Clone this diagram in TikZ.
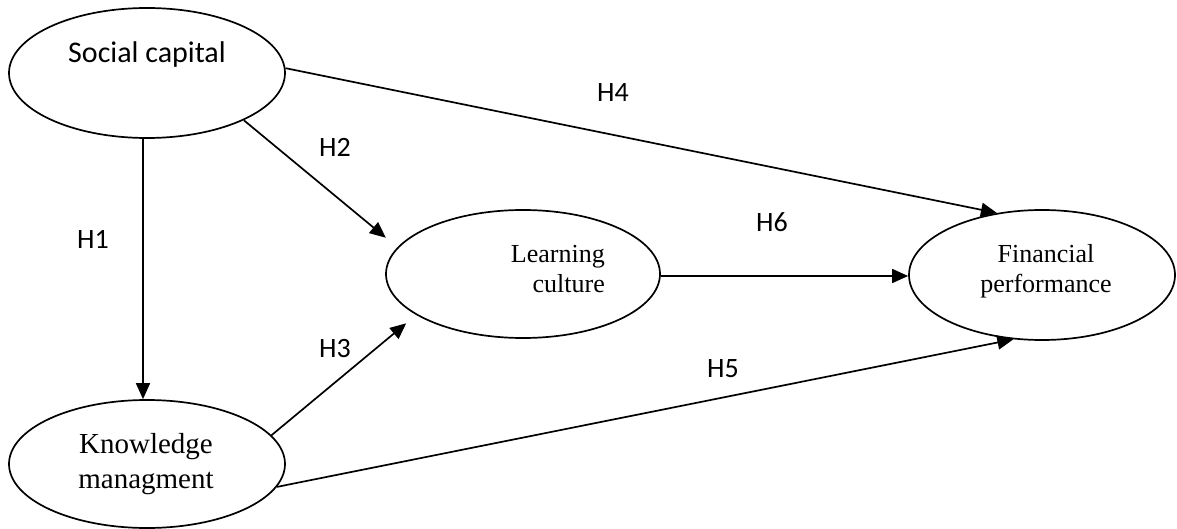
\documentclass[tikz,border=0pt]{standalone}
\usepackage{fontspec}
\setmainfont{Liberation Serif}
\newfontfamily\calib{Carlito}
\usetikzlibrary{shapes.geometric,arrows.meta}
\begin{document}
\begin{tikzpicture}[x=1pt,y=-1pt,
  construct/.style={draw, ellipse, line width=1.7pt, inner sep=0pt},
  ctext/.style={inner sep=0pt, font=\fontsize{26}{30}\selectfont},
  hlabel/.style={inner sep=0pt, anchor=base, font=\calib\fontsize{28}{32}\selectfont},
  path/.style={line width=1.7pt, -{Triangle[length=16pt,width=14pt]}}
]
\useasboundingbox (0,0) rectangle (1177,529);
% constructs
\node[construct, minimum width=276pt, minimum height=130pt] (sc) at (147,73) {};
\node[construct, minimum width=276pt, minimum height=128pt] (km) at (147,464) {};
\node[construct, minimum width=274pt, minimum height=128pt] (lc) at (523,274) {};
\node[construct, minimum width=266pt, minimum height=130pt] (fp) at (1042,275) {};
% texts
\node[inner sep=0pt, anchor=base, font=\calib\fontsize{30}{34}\selectfont] (sct) at (147,63) {Social capital};
\node[ctext, align=center, font=\fontsize{29}{35}\selectfont] (kmt) at (146,464) {Knowledge\\managment};
\node[ctext, align=right, anchor=east] (lct) at (605,269) {Learning\\culture};
\node[ctext, align=center] (fpt) at (1046,271) {Financial\\performance};
% paths
\draw[path] ([xshift=-4pt]sc.south) -- ([xshift=-4pt]km.north);
\draw[path, shorten >=15pt] (sc.-26) -- (lc.168);
\draw[path, shorten >=13pt] (km.13) -- (lc.201);
\draw[path] (sc.2) -- (fp.126);
\draw[path] (km.-10) -- (fp.246);
\draw[path] ([yshift=-2pt]lc.east) -- ([yshift=-2pt]lc.east -| fp.west);
% labels
\node[hlabel] (h1) at (93,248) {H1};
\node[hlabel] (h2) at (335,157) {H2};
\node[hlabel] (h3) at (335,357) {H3};
\node[hlabel] (h4) at (613,102) {H4};
\node[hlabel] (h5) at (723,377) {H5};
\node[hlabel] (h6) at (772,232) {H6};
\end{tikzpicture}
\end{document}
